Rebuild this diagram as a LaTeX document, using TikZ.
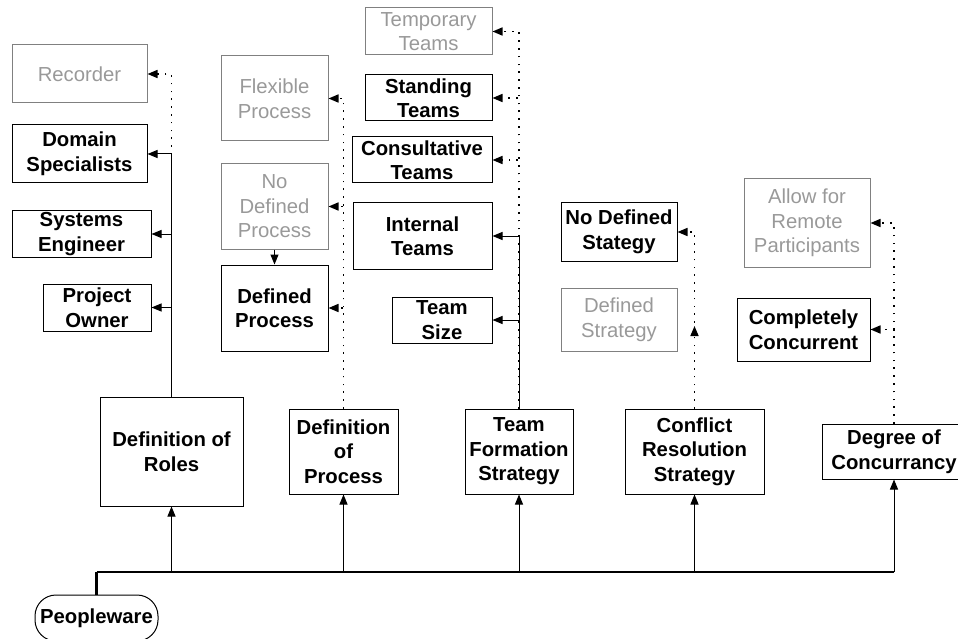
\documentclass[tikz,border=0pt]{standalone}
\usepackage{fontspec}
\setmainfont{Liberation Sans}
\usetikzlibrary{arrows.meta}
\definecolor{gline}{HTML}{808080}
\definecolor{gtext}{HTML}{999999}
\begin{document}
\begin{tikzpicture}[x=1pt,y=-1pt,
  base/.style={rectangle, draw, inner sep=0pt, align=center, line width=1pt},
  bbox/.style={base, draw=black, text=black, font=\fontsize{20.3}{24.5}\selectfont\bfseries},
  gbox/.style={base, draw=gline, text=gtext, font=\fontsize{20.3}{24.5}\selectfont},
  tip/.style={-{Triangle[length=10pt,width=8pt]}},
  solidarrow/.style={tip, line width=1pt, draw=black},
  dotarrow/.style={tip, line width=1.6pt, dash pattern=on 1.6pt off 6.2pt, draw=black},
  busline/.style={line width=1.3pt, draw=black}
]
\useasboundingbox (0,0) rectangle (958,639);
\clip (0,0) rectangle (958,639);

% column 1
\node[gbox, minimum width=135pt, minimum height=58pt] (rec) at (79.5,74) {Recorder};
\node[bbox, minimum width=135pt, minimum height=58pt] (dom) at (79.5,154) {Domain\\Specialists};
\node[bbox, minimum width=139pt, minimum height=46pt] (sys) at (81.5,234) {Systems\\Engineer};
\node[bbox, minimum width=108pt, minimum height=47pt] (own) at (97,307.5) {Project\\Owner};
\node[bbox, minimum width=143pt, minimum height=109pt] (roles) at (171.5,451.5) {Definition of\\Roles};

% column 2
\node[gbox, minimum width=107pt, minimum height=85pt] (flex) at (274.5,98.5) {Flexible\\Process};
\node[gbox, minimum width=107pt, minimum height=85pt] (ndp) at (274.5,206.5) {No\\Defined\\Process};
\node[bbox, minimum width=107pt, minimum height=86pt] (dp) at (274.5,308) {Defined\\Process};
\node[bbox, minimum width=109pt, minimum height=85pt] (defp) at (343.5,451.5) {Definition\\of\\Process};

% column 3
\node[gbox, minimum width=127pt, minimum height=47pt] (temp) at (428.5,31.5) {Temporary\\Teams};
\node[bbox, minimum width=127pt, minimum height=46pt] (stand) at (428.5,98) {Standing\\Teams};
\node[bbox, minimum width=140pt, minimum height=46pt] (cons) at (422,160) {Consultative\\Teams};
\node[bbox, minimum width=139pt, minimum height=66pt] (intl) at (422.5,236) {Internal\\Teams};
\node[bbox, minimum width=100pt, minimum height=46pt] (size) at (442,320) {Team\\Size};
\node[bbox, minimum width=108pt, minimum height=85pt] (tfs) at (519,451.5) {Team\\Formation\\Strategy};

% column 4
\node[bbox, minimum width=116pt, minimum height=58pt] (nds) at (619,232) {No Defined\\Stategy};
\node[gbox, minimum width=116pt, minimum height=63pt] (ds) at (619,319.5) {Defined\\Strategy};
\node[bbox, minimum width=139pt, minimum height=85pt] (crs) at (694.5,451.5) {Conflict\\Resolution\\Strategy};
\coordinate (dsup) at (694.5,326);

% column 5
\node[gbox, minimum width=126pt, minimum height=88pt] (remote) at (807,223) {Allow for\\Remote\\Participants};
\node[bbox, minimum width=133pt, minimum height=63pt] (cc) at (803.5,329.5) {Completely\\Concurrent};
\node[bbox, minimum width=144pt, minimum height=55pt] (doc) at (894,451.5) {Degree of\\Concurrancy};

% root
\node[bbox, minimum width=123pt, minimum height=46pt, rounded corners=21pt] (people) at (96.5,618) {Peopleware};

% column 1 connectors
\draw[dotarrow] (roles.north) |- (rec.east);
\draw[solidarrow] (roles.north) |- (dom.east);
\draw[solidarrow] (roles.north) |- (sys.east);
\draw[solidarrow] (roles.north) |- (own.east);

% column 2 connectors
\draw[dotarrow] (defp.north) |- (flex.east);
\draw[dotarrow] (defp.north) |- (ndp.east);
\draw[dotarrow] (defp.north) |- (dp.east);
\draw[solidarrow] (ndp.south) -- (dp.north);

% column 3 connectors
\draw[dotarrow] (tfs.north) |- (temp.east);
\draw[dotarrow] (tfs.north) |- (stand.east);
\draw[dotarrow] (tfs.north) |- (cons.east);
\draw[solidarrow] (tfs.north) |- (intl.east);
\draw[solidarrow] (tfs.north) |- (size.east);

% column 4 connectors
\draw[dotarrow] (crs.north) |- (nds.east);
\draw[dotarrow] (crs.north) -- (dsup);

% column 5 connectors
\draw[dotarrow] (doc.north) |- (remote.east);
\draw[dotarrow] (doc.north) |- (cc.east);

% bus
\coordinate (busL) at (96.5,572);
\coordinate (busR) at (894,572);
\draw[line width=2.2pt] (people.north) -- (busL);
\draw[busline] (busL) -- (busR);
\draw[solidarrow] (roles.south |- busL) -- (roles.south);
\draw[solidarrow] (defp.south |- busL) -- (defp.south);
\draw[solidarrow] (tfs.south |- busL) -- (tfs.south);
\draw[solidarrow] (crs.south |- busL) -- (crs.south);
\draw[solidarrow] (busR) -- (doc.south);
\end{tikzpicture}
\end{document}
